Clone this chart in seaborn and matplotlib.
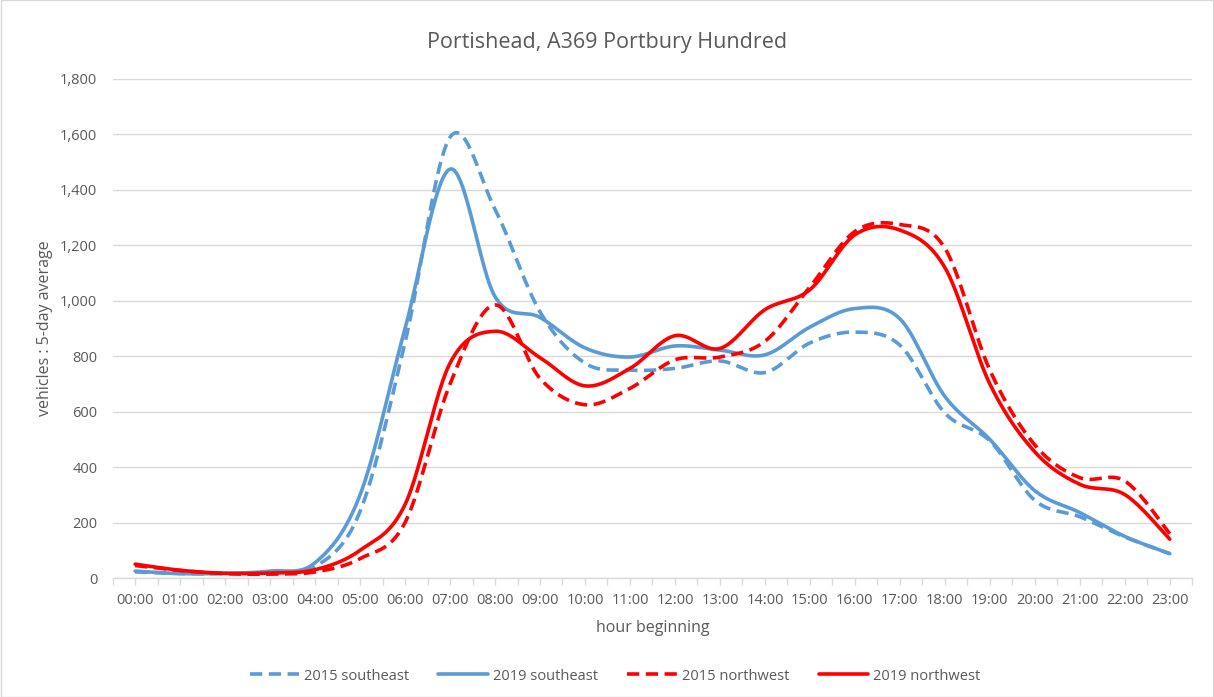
import numpy as np
import pandas as pd
import seaborn as sns
import matplotlib
matplotlib.use('Agg')
import matplotlib.pyplot as plt
from matplotlib.patches import Rectangle


hours = ['00:00', '01:00', '02:00', '03:00', '04:00', '05:00', '06:00', '07:00',
         '08:00', '09:00', '10:00', '11:00', '12:00', '13:00', '14:00', '15:00',
         '16:00', '17:00', '18:00', '19:00', '20:00', '21:00', '22:00', '23:00']

se_2015 = [22, 16, 16, 22, 40, 240, 850, 1590, 1330, 960, 775, 750,
           756, 783, 741, 848, 887, 840, 595, 495, 280, 221, 148, 88]
se_2019 = [25, 16, 17, 25, 55, 300, 900, 1475, 1015, 940, 830, 797,
           837, 822, 805, 905, 972, 935, 655, 500, 315, 236, 150, 88]
nw_2015 = [45, 27, 16, 14, 22, 70, 200, 700, 985, 720, 625, 684,
           787, 797, 854, 1050, 1250, 1275, 1190, 750, 480, 362, 350, 160]
nw_2019 = [50, 28, 17, 18, 30, 100, 265, 775, 890, 795, 693, 756,
           874, 828, 968, 1040, 1238, 1255, 1120, 700, 455, 338, 301, 140]

series = {
    '2015 southeast': se_2015,
    '2019 southeast': se_2019,
    '2015 northwest': nw_2015,
    '2019 northwest': nw_2019,
}
colors = {'2015 southeast': '#5B9BD5', '2019 southeast': '#5B9BD5',
          '2015 northwest': '#FF0000', '2019 northwest': '#FF0000'}
dashes = {'2015 southeast': (3.4, 1.8), '2019 southeast': '',
          '2015 northwest': (3.4, 1.8), '2019 northwest': ''}


def smooth(xs, ys, n=30):
    # Excel-style smoothed line: cubic Bezier through each point
    p = np.column_stack([xs, ys]).astype(float)
    p = np.vstack([p[0], p, p[-1]])
    t = np.linspace(0, 1, n)[:, None]
    out = []
    for i in range(1, len(p) - 2):
        p0, p1, p2, p3 = p[i - 1], p[i], p[i + 1], p[i + 2]
        c1 = p1 + (p2 - p0) / 6
        c2 = p2 - (p3 - p1) / 6
        seg = ((1 - t) ** 3) * p1 + 3 * ((1 - t) ** 2) * t * c1 \
            + 3 * (1 - t) * t ** 2 * c2 + t ** 3 * p2
        out.append(seg if i == 1 else seg[1:])
    return np.vstack(out)


rows = []
x = np.arange(len(hours))
for name, vals in series.items():
    pts = smooth(x, vals)
    rows.append(pd.DataFrame({'hour': pts[:, 0], 'vehicles': pts[:, 1], 'series': name}))
df = pd.concat(rows, ignore_index=True)

sns.set_theme(style='white')
plt.rcParams['font.family'] = ['Open Sans', 'DejaVu Sans']
grey = '#595959'
light = '#D9D9D9'

fig = plt.figure(figsize=(12.14, 6.97), dpi=100)
ax = fig.add_axes([0.0928, 0.1707, 0.8893, 0.716])

sns.lineplot(data=df, x='hour', y='vehicles', hue='series', style='series',
             palette=colors, dashes=dashes, estimator=None, sort=False,
             linewidth=2.6, ax=ax)

ax.set_xlim(-0.5, 23.5)
ax.set_ylim(0, 1800)
ax.set_yticks(np.arange(0, 1801, 200))
ax.set_yticklabels([f'{v:,}' for v in range(0, 1801, 200)])
ax.yaxis.grid(True, color=light, linewidth=1)
ax.set_axisbelow(True)

ax.set_xticks(np.arange(-0.5, 24, 1))
ax.set_xticklabels([])
ax.set_xticks(x, minor=True)
ax.set_xticklabels(hours, minor=True)
ax.tick_params(axis='x', which='both', direction='out', length=5, width=1,
               color=light, labelsize=10.5, labelcolor=grey, pad=6, bottom=True)
ax.tick_params(axis='y', length=0, labelsize=10.5, labelcolor=grey, pad=11)

for side in ['top', 'right', 'left']:
    ax.spines[side].set_visible(False)
ax.spines['bottom'].set_color(light)
ax.spines['bottom'].set_linewidth(1)

ax.set_xlabel('hour beginning', fontsize=11.5, color=grey, va='center')
ax.xaxis.set_label_coords(0.5, -0.100)
ax.set_ylabel('vehicles : 5-day average', fontsize=11.5, color=grey, va='center')
ax.yaxis.set_label_coords(-0.0627, 0.5)

fig.text(0.5004, 0.9397, 'Portishead, A369 Portbury Hundred', fontsize=15.5,
         color=grey, ha='center', va='center')

handles, labels = ax.get_legend_handles_labels()
ax.legend(handles, labels, loc='center', bbox_to_anchor=(0.5066, 0.0301),
          bbox_transform=fig.transFigure, ncol=4, frameon=False, fontsize=10.5,
          handlelength=3.4, handletextpad=0.35, columnspacing=2.0,
          labelcolor=grey)

fig.add_artist(Rectangle((0.0005, 0.0005), 0.999, 0.999, transform=fig.transFigure,
                         fill=False, edgecolor=light, linewidth=1))

fig.savefig('out.png', dpi=100)
plt.close(fig)
